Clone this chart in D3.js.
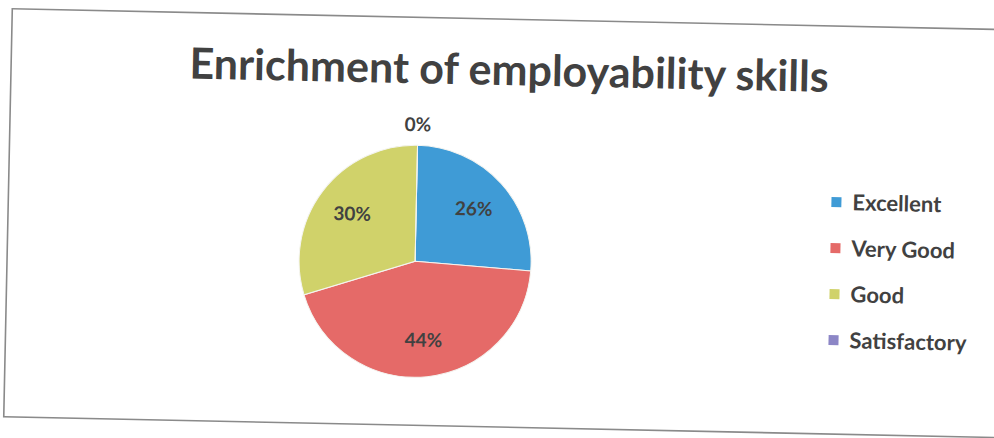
<!DOCTYPE html>
<html>
<head>
<meta charset="utf-8">
<script src="https://cdn.jsdelivr.net/npm/d3@7"></script>
<style>
  body { margin: 0; background: #fff; }
  text { font-family: Lato, "Open Sans", sans-serif; font-weight: bold; fill: #414141; }
</style>
</head>
<body>
<script>
// chart data
const categories = ["Excellent", "Very Good", "Good", "Satisfactory"];
const values = [26, 44, 30, 0];
const colors = ["#3f9bd6", "#e56a68", "#d0d26a", "#8c86c6"];
const title = "Enrichment of employability skills";

const width = 994;
const height = 438;

const svg = d3.select("body")
    .append("svg")
    .attr("width", width)
    .attr("height", height);

// the scanned page is slightly tilted
const g = svg.append("g")
    .attr("transform", "rotate(1.2," + width / 2 + "," + height / 2 + ")");

// chart frame
g.append("rect")
    .attr("x", 8)
    .attr("y", 19)
    .attr("width", 1000)
    .attr("height", 408)
    .attr("fill", "none")
    .attr("stroke", "#8a8a8a")
    .attr("stroke-width", 1.6);

// title
g.append("text")
    .attr("x", 506)
    .attr("y", 85)
    .attr("text-anchor", "middle")
    .style("font-size", "43px")
    .text(title);

// pie
const radius = 116;
const cx = 416, cy = 263;

const color = d3.scaleOrdinal()
    .domain(categories)
    .range(colors);

const pie = d3.pie()
    .sort(null)
    .value(d => d.value);

const data = categories.map((c, i) => ({ name: c, value: values[i] }));
const arcs = pie(data);

const arc = d3.arc()
    .innerRadius(0)
    .outerRadius(radius);

const labelArc = d3.arc()
    .innerRadius(radius * 0.68)
    .outerRadius(radius * 0.68);

const outerArc = d3.arc()
    .innerRadius(radius + 21)
    .outerRadius(radius + 21);

const pieG = g.append("g")
    .attr("transform", "translate(" + cx + "," + cy + ")");

pieG.selectAll("path")
    .data(arcs)
    .enter()
    .append("path")
    .attr("d", arc)
    .attr("fill", d => color(d.data.name))
    .attr("stroke", "#f4f4f0")
    .attr("stroke-width", 1);

// data labels
const total = d3.sum(values);
pieG.selectAll("text.lbl")
    .data(arcs)
    .enter()
    .append("text")
    .attr("class", "lbl")
    .attr("transform", d => {
        const p = d.value === 0 ? outerArc.centroid(d) : labelArc.centroid(d);
        return "translate(" + p + ")";
    })
    .attr("text-anchor", "middle")
    .attr("dy", "0.36em")
    .style("font-size", "19px")
    .text(d => Math.round(d.value / total * 100) + "%");

// legend
const legend = g.append("g")
    .attr("transform", "translate(831,195)");

const row = legend.selectAll("g")
    .data(categories)
    .enter()
    .append("g")
    .attr("transform", (d, i) => "translate(0," + i * 46 + ")");

row.append("rect")
    .attr("x", 0)
    .attr("y", -5)
    .attr("width", 10)
    .attr("height", 10)
    .attr("fill", d => color(d));

row.append("text")
    .attr("x", 21)
    .attr("dy", "0.36em")
    .style("font-size", "22px")
    .text(d => d);
</script>
</body>
</html>
